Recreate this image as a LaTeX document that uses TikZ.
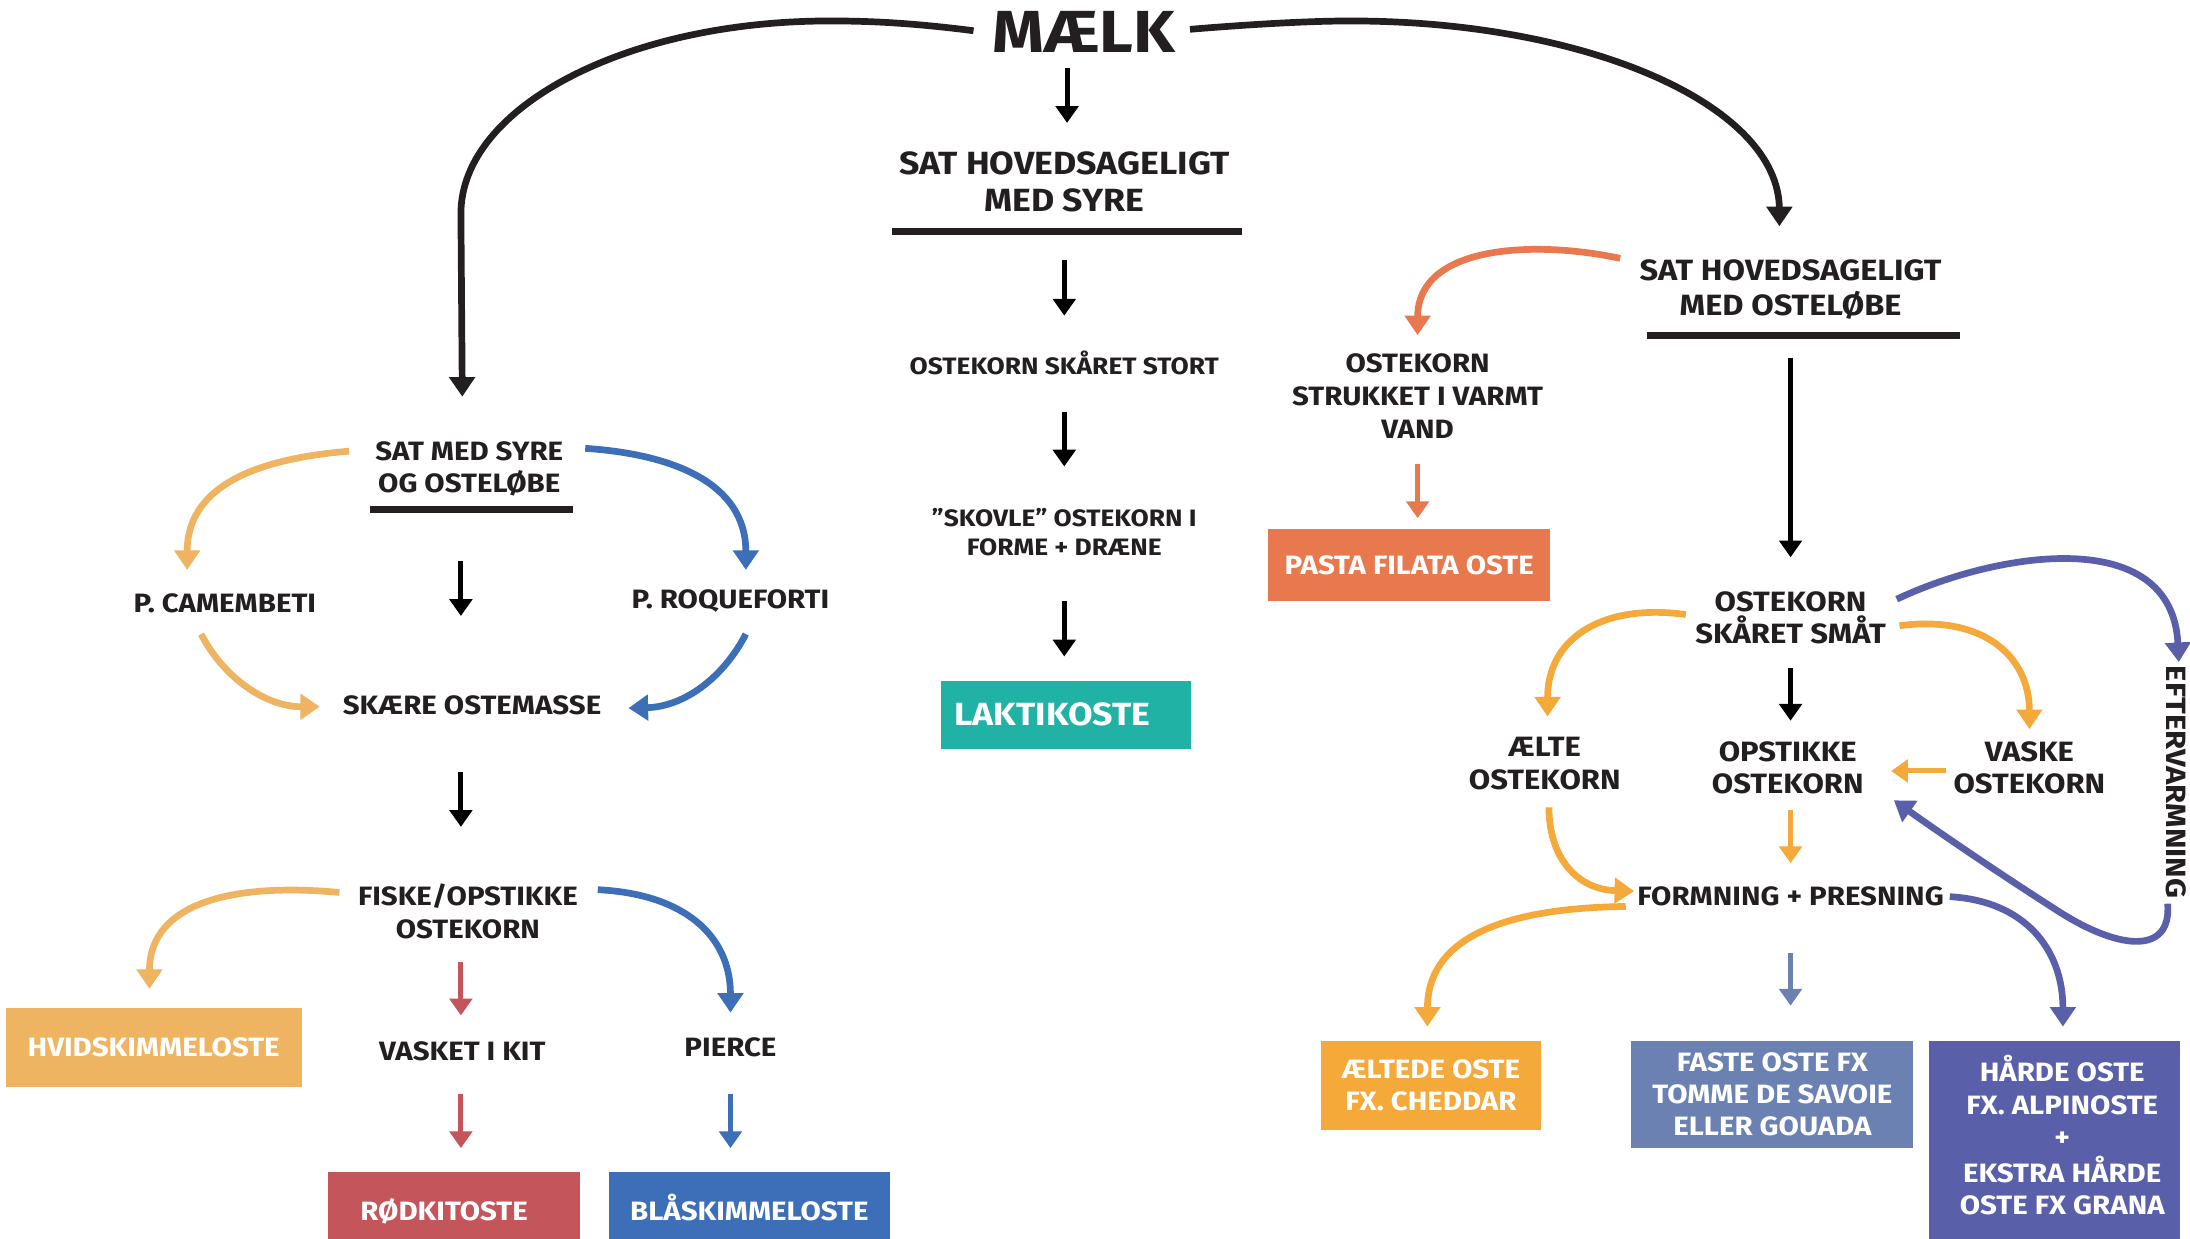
\documentclass[tikz,border=0pt]{standalone}
\usepackage{fontspec}
\setmainfont{Fira Sans}[FakeStretch=1.11]
\usetikzlibrary{arrows.meta}
\definecolor{ink}{HTML}{231F20}
\definecolor{teal}{HTML}{21B2A6}
\definecolor{orred}{HTML}{E8794F}
\definecolor{lorange}{HTML}{EEB461}
\definecolor{cblue}{HTML}{3C6FB7}
\definecolor{cred}{HTML}{C4555A}
\definecolor{cyellow}{HTML}{F5A93A}
\definecolor{slate}{HTML}{6A81B1}
\definecolor{cpurple}{HTML}{5A5FAA}
\tikzset{
  lbl/.style={font=\bfseries\fontsize{19}{23}\selectfont, text=ink, align=center, inner sep=0pt},
  hdr/.style={lbl, font=\bfseries\fontsize{23}{26.5}\selectfont},
  sml/.style={lbl, font=\bfseries\fontsize{17}{20.5}\selectfont},
  cheese/.style={rectangle, inner sep=0pt, outer sep=0pt, text=white, align=center,
                 font=\bfseries\fontsize{19}{23}\selectfont},
  arr/.style={line width=3.6pt, -{Triangle[width=16pt,length=12pt]}},
  carr/.style={line width=4.8pt, -{Triangle[width=18pt,length=14pt]}},
  bar/.style={line width=5pt, ink},
}
\begin{document}
\begin{tikzpicture}[x=1pt,y=-1pt]
\useasboundingbox (0,0) rectangle (1568,887);

% ---------- nodes ----------
\node[lbl, font=\bfseries\fontsize{42.5}{48}\selectfont] (maelk) at (776,23) {MÆLK};
\node[hdr] (syre) at (762,130.5) {SAT HOVEDSAGELIGT\\MED SYRE};
\node[sml] (stort) at (762,260) {OSTEKORN SKÅRET STORT};
\node[sml] (skovle) at (762,381) {”SKOVLE” OSTEKORN I\\FORME + DRÆNE};
\node[cheese, fill=teal, minimum width=179pt, minimum height=48.5pt,
      font=\bfseries\fontsize{23}{26}\selectfont] (laktik) at (763.5,511.75) {LAKTIKOSTE\hspace*{20pt}};

\node[hdr, font=\bfseries\fontsize{21}{25}\selectfont] (loebe) at (1282,207) {SAT HOVEDSAGELIGT\\MED OSTELØBE};
\node[lbl, font=\bfseries\fontsize{19}{23.5}\selectfont] (strukket) at (1015,283.5) {OSTEKORN\\STRUKKET I VARMT\\VAND};
\node[cheese, fill=orred, minimum width=202pt, minimum height=51pt] (pasta) at (1009,404.5) {PASTA FILATA OSTE};
\node[lbl, font=\bfseries\fontsize{20}{23}\selectfont] (smaat) at (1282,442.5) {OSTEKORN\\SKÅRET SMÅT};
\node[lbl, font=\bfseries\fontsize{20}{23.5}\selectfont] (aelte) at (1106,546.5) {ÆLTE\\OSTEKORN};
\node[lbl, font=\bfseries\fontsize{20}{23}\selectfont] (opstik) at (1280,550) {OPSTIKKE\\OSTEKORN};
\node[lbl, font=\bfseries\fontsize{20}{23}\selectfont] (vaske) at (1453,550) {VASKE\\OSTEKORN};
\node[lbl, rotate=-90, font=\bfseries\fontsize{20}{24}\selectfont] (efter) at (1558,560) {EFTERVARMNING};
\node[lbl] (formning) at (1282,642) {FORMNING + PRESNING};
\node[cheese, fill=cyellow, minimum width=157pt, minimum height=64pt] (aeltede) at (1024.5,777) {ÆLTEDE OSTE\\FX. CHEDDAR};
\node[cheese, fill=slate, minimum width=202pt, minimum height=77pt] (faste) at (1269,783.5) {FASTE OSTE FX\\TOMME DE SAVOIE\\ELLER GOUADA};
\node[cheese, fill=cpurple, minimum width=180pt, minimum height=142pt] (haarde) at (1471,816)
  {\hspace*{11pt}\raisebox{5pt}{\begin{tabular}{@{}c@{}}HÅRDE OSTE\\FX. ALPINOSTE\\+\\EKSTRA HÅRDE\\OSTE FX GRANA\end{tabular}}};

\node[lbl] (satsyre) at (336,335.5) {SAT MED SYRE\\OG OSTELØBE};
\node[lbl] (camem) at (161,432) {P. CAMEMBETI};
\node[lbl] (roque) at (523,430) {P. ROQUEFORTI};
\node[lbl] (skaere) at (338,505) {SKÆRE OSTEMASSE};
\node[lbl] (fiske) at (335,652.5) {FISKE/OPSTIKKE\\OSTEKORN};
\node[lbl] (vasket) at (331,753) {VASKET I KIT};
\node[lbl] (pierce) at (523,750) {PIERCE};
\node[cheese, fill=lorange, minimum width=212pt, minimum height=56pt] (hvid) at (110,750) {HVIDSKIMMELOSTE};
\node[cheese, fill=cred, minimum width=180pt, minimum height=56pt, text height=13pt, text depth=0pt] (rod) at (325,867) {RØDKITOSTE\hspace*{14pt}};
\node[cheese, fill=cblue, minimum width=201pt, minimum height=56pt, text height=13pt, text depth=0pt] (blaa) at (536.5,867) {BLÅSKIMMELOSTE};

% ---------- underline bars ----------
\draw[bar] (639,166) -- (889,166);
\draw[bar] (1179,240.5) -- (1403,240.5);
\draw[bar] (265,364.5) -- (410,364.5);

% ---------- connector end points ----------
\coordinate (maelk-w) at (697,22);
\coordinate (maelk-e) at (852,21);
\coordinate (satsyre-n) at (331,284);
\coordinate (loebe-n) at (1274,162);
\coordinate (maelk-s) at (764,49);   \coordinate (syre-n) at (764,88);
\coordinate (syre-s) at (762,186);   \coordinate (stort-n) at (762,226);
\coordinate (stort-s) at (762,295);  \coordinate (skovle-n) at (762,334);
\coordinate (skovle-s) at (762,430); \coordinate (laktik-n) at (762,470);
\coordinate (loebe-w) at (1160,185); \coordinate (strukket-n) at (1015,240);
\coordinate (strukket-s) at (1015,332); \coordinate (pasta-n) at (1015,371);
\coordinate (loebe-s) at (1282,256); \coordinate (smaat-n) at (1282,399);
\coordinate (smaat-s) at (1282,478); \coordinate (opstik-n) at (1282,516);
\coordinate (smaat-w) at (1207,440); \coordinate (aelte-n) at (1108,513);
\coordinate (smaat-e) at (1360,448); \coordinate (vaske-n) at (1453,522);
\coordinate (smaat-ne) at (1358,429); \coordinate (efter-n) at (1560,474);
\coordinate (efter-s) at (1552,647); \coordinate (opstik-e) at (1356,573);
\coordinate (vaske-w) at (1393,552); \coordinate (opstik-ee) at (1354,552);
\coordinate (opstik-s) at (1282,580); \coordinate (formning-n) at (1282,618);
\coordinate (aelte-s) at (1109,578); \coordinate (formning-w) at (1170,638);
\coordinate (formning-sw) at (1164,649); \coordinate (aeltede-n) at (1022,735);
\coordinate (formning-s) at (1282,682); \coordinate (faste-n) at (1282,720);
\coordinate (formning-e) at (1396,642); \coordinate (haarde-n) at (1477,735);
\coordinate (satsyre-w) at (250,323); \coordinate (camem-n) at (134,408);
\coordinate (satsyre-e) at (419,321); \coordinate (roque-n) at (534,408);
\coordinate (satsyre-s) at (330,402); \coordinate (skaere-n) at (330,441);
\coordinate (camem-s) at (144,454); \coordinate (skaere-w) at (229,506);
\coordinate (roque-s) at (534,454); \coordinate (skaere-e) at (450,507);
\coordinate (skaere-s) at (330,553); \coordinate (fiske-n) at (330,592);
\coordinate (fiske-w) at (243,639); \coordinate (hvid-n) at (107,708);
\coordinate (fiske-e) at (428,637); \coordinate (pierce-n) at (523,725);
\coordinate (fiske-s) at (330,689); \coordinate (vasket-n) at (330,727);
\coordinate (vasket-s) at (330,783); \coordinate (rod-n) at (330,822);
\coordinate (pierce-s) at (523,783); \coordinate (blaa-n) at (523,822);

% ---------- black connectors ----------
\draw[carr, ink] (maelk-w) .. controls (650,16) and (620,15) .. (594,15)
      .. controls (448,15) and (330,77) .. (330,153) -- (satsyre-n);
\draw[carr, ink] (maelk-e) .. controls (900,17) and (940,15) .. (967,15)
      .. controls (1136,15) and (1274,75) .. (1274,150) -- (loebe-n);
\draw[arr, black] (maelk-s) -- (syre-n);
\draw[arr, black] (syre-s) -- (stort-n);
\draw[arr, black] (stort-s) -- (skovle-n);
\draw[arr, black] (skovle-s) -- (laktik-n);
\draw[arr, black] (loebe-s) -- (smaat-n);
\draw[arr, black] (smaat-s) -- (opstik-n);
\draw[arr, black] (satsyre-s) -- (skaere-n);
\draw[arr, black] (skaere-s) -- (fiske-n);

% ---------- right branch ----------
\draw[carr, orred] (loebe-w) .. controls (1100,172) and (1015,175) .. (strukket-n);
\draw[arr, orred] (strukket-s) -- (pasta-n);
\draw[carr, cyellow] (smaat-w) .. controls (1150,432) and (1108,455) .. (aelte-n);
\draw[carr, cyellow] (smaat-e) .. controls (1420,440) and (1453,470) .. (vaske-n);
\draw[carr, cpurple] (smaat-ne) .. controls (1430,395) and (1555,375) .. (efter-n);
\draw[carr, cpurple] (efter-s) .. controls (1555,685) and (1515,680) .. (1470,650)
      .. controls (1420,618) and (1380,590) .. (opstik-e);
\draw[arr, cyellow] (vaske-w) -- (opstik-ee);
\draw[arr, cyellow] (opstik-s) -- (formning-n);
\draw[carr, cyellow] (aelte-s) .. controls (1109,615) and (1130,637) .. (formning-w);
\draw[carr, cyellow] (formning-sw) .. controls (1080,650) and (1022,670) .. (aeltede-n);
\draw[arr, slate] (formning-s) -- (faste-n);
\draw[carr, cpurple] (formning-e) .. controls (1450,645) and (1477,680) .. (haarde-n);

% ---------- left branch ----------
\draw[carr, lorange] (satsyre-w) .. controls (190,328) and (134,345) .. (camem-n);
\draw[carr, cblue] (satsyre-e) .. controls (480,325) and (534,345) .. (roque-n);
\draw[carr, lorange] (camem-s) .. controls (160,485) and (190,506) .. (skaere-w);
\draw[carr, cblue] (roque-s) .. controls (518,485) and (490,506) .. (skaere-e);
\draw[carr, lorange] (fiske-w) .. controls (170,632) and (107,645) .. (hvid-n);
\draw[carr, cblue] (fiske-e) .. controls (490,640) and (523,670) .. (pierce-n);
\draw[arr, cred] (fiske-s) -- (vasket-n);
\draw[arr, cred] (vasket-s) -- (rod-n);
\draw[arr, cblue] (pierce-s) -- (blaa-n);
\end{tikzpicture}
\end{document}
